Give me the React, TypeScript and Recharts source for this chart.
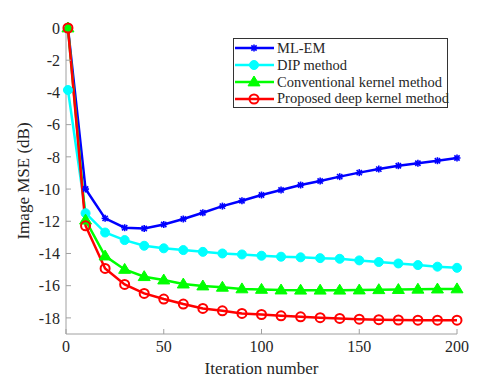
import React from 'react';
import { LineChart, Line, XAxis, YAxis } from 'recharts';

const iterations = [1, 10, 20, 30, 40, 50, 60, 70, 80, 90, 100, 110, 120, 130, 140, 150, 160, 170, 180, 190, 200];
const mlem = [0, -10.0, -11.82, -12.4, -12.45, -12.2, -11.86, -11.47, -11.06, -10.73, -10.37, -10.06, -9.75, -9.5, -9.23, -8.98, -8.76, -8.55, -8.4, -8.24, -8.07];
const dip = [-3.85, -11.5, -12.7, -13.17, -13.52, -13.68, -13.79, -13.9, -14.0, -14.06, -14.14, -14.2, -14.24, -14.29, -14.33, -14.43, -14.53, -14.62, -14.72, -14.82, -14.89];
const conventional = [0, -11.93, -14.16, -14.99, -15.44, -15.65, -15.9, -16.02, -16.1, -16.2, -16.23, -16.27, -16.28, -16.28, -16.28, -16.27, -16.25, -16.24, -16.22, -16.21, -16.2];
const proposed = [0, -12.28, -14.93, -15.92, -16.48, -16.83, -17.14, -17.41, -17.56, -17.72, -17.79, -17.87, -17.93, -17.99, -18.03, -18.08, -18.11, -18.13, -18.14, -18.14, -18.14];

const xTicks = [0, 50, 100, 150, 200];
const yTicks = [0, -2, -4, -6, -8, -10, -12, -14, -16, -18];

const data = iterations.map((it, i) => ({
  it,
  mlem: mlem[i],
  dip: dip[i],
  conventional: conventional[i],
  proposed: proposed[i],
}));

const FONT = 'Liberation Serif, Times New Roman, serif';
const AXIS = '#a0a0a0';
const TEXT = '#262626';

type Kind = 'star' | 'dot' | 'tri' | 'ring';

const Marker = ({ kind, cx, cy, color }: { kind: Kind; cx: number; cy: number; color: string }) => {
  if (cx == null || cy == null) return null;
  if (kind === 'star') {
    const r = 3.5;
    const d = r * 0.75;
    return (
      <g stroke={color} strokeWidth={1.6}>
        <line x1={cx - r} y1={cy} x2={cx + r} y2={cy} />
        <line x1={cx} y1={cy - r} x2={cx} y2={cy + r} />
        <line x1={cx - d} y1={cy - d} x2={cx + d} y2={cy + d} />
        <line x1={cx - d} y1={cy + d} x2={cx + d} y2={cy - d} />
      </g>
    );
  }
  if (kind === 'dot') return <circle cx={cx} cy={cy} r={4.5} fill={color} stroke={color} />;
  if (kind === 'tri') {
    const s = 6;
    return (
      <polygon
        points={`${cx},${cy - s} ${cx - s},${cy + s * 0.65} ${cx + s},${cy + s * 0.65}`}
        fill={color}
        stroke={color}
        strokeWidth={1}
      />
    );
  }
  return <circle cx={cx} cy={cy} r={4.5} fill="none" stroke={color} strokeWidth={2} />;
};

const SERIES: { key: string; name: string; color: string; kind: Kind }[] = [
  { key: 'mlem', name: 'ML-EM', color: '#0000ff', kind: 'star' },
  { key: 'dip', name: 'DIP method', color: '#00ffff', kind: 'dot' },
  { key: 'conventional', name: 'Conventional kernel method', color: '#00ff00', kind: 'tri' },
  { key: 'proposed', name: 'Proposed deep kernel method', color: '#ff0000', kind: 'ring' },
];

const LegendBox = () => (
  <div
    style={{
      position: 'absolute',
      left: 233,
      top: 38,
      boxSizing: 'border-box',
      border: '1px solid #333',
      background: '#fff',
      width: 215,
      height: 70,
      padding: '1px 0',
      fontFamily: FONT,
      fontSize: 14.5,
      lineHeight: '16.8px',
      color: TEXT,
    }}
  >
    {SERIES.map((s) => (
      <div key={s.key} style={{ display: 'flex', alignItems: 'center', height: 16.8 }}>
        <svg width={42} height={14} style={{ flex: 'none' }}>
          <line x1={1} y1={7} x2={40} y2={7} stroke={s.color} strokeWidth={2.5} />
          <Marker kind={s.kind} cx={20} cy={7} color={s.color} />
        </svg>
        <span style={{ marginLeft: 1, whiteSpace: 'nowrap' }}>{s.name}</span>
      </div>
    ))}
  </div>
);

export default function App() {
  return (
    <div style={{ position: 'absolute', left: 0, top: 0, width: 499, height: 379, background: '#fff' }}>
      <LineChart width={499} height={379} data={data} margin={{ top: 28, right: 42, bottom: 15, left: 26 }} style={{ fontFamily: FONT }}>
        <XAxis
          xAxisId="b"
          dataKey="it"
          type="number"
          domain={[0, 200]}
          ticks={xTicks}
          height={30}
          stroke={AXIS}
          tickSize={-5}
          tickMargin={12}
          tick={{ fill: TEXT, fontFamily: FONT, fontSize: 16 }}
          label={{ value: 'Iteration number', position: 'insideBottom', offset: -10, fill: TEXT, fontFamily: FONT, fontSize: 17 }}
        />
        <XAxis
          xAxisId="t"
          orientation="top"
          dataKey="it"
          type="number"
          domain={[0, 200]}
          ticks={xTicks}
          height={0}
          stroke={AXIS}
          tickSize={-5}
          tick={false}
        />
        <YAxis
          yAxisId="l"
          type="number"
          domain={[-19, 0]}
          ticks={yTicks}
          width={40}
          stroke={AXIS}
          tickSize={-5}
          tickMargin={11}
          tick={{ fill: TEXT, fontFamily: FONT, fontSize: 16 }}
          label={{ value: 'Image MSE (dB)', angle: -90, position: 'insideLeft', offset: -3, fill: TEXT, fontFamily: FONT, fontSize: 17, style: { textAnchor: 'middle' } }}
        />
        <YAxis
          yAxisId="r"
          orientation="right"
          type="number"
          domain={[-19, 0]}
          ticks={yTicks}
          width={0}
          stroke={AXIS}
          tickSize={-5}
          tick={false}
        />
        {SERIES.map((s) => (
          <Line
            key={s.key}
            xAxisId="b"
            yAxisId="l"
            dataKey={s.key}
            name={s.name}
            stroke={s.color}
            strokeWidth={2.5}
            isAnimationActive={false}
            dot={(p: any) => <Marker key={`${s.key}-${p.index}`} kind={s.kind} cx={p.cx} cy={p.cy} color={s.color} />}
            activeDot={false}
          />
        ))}
      </LineChart>
      <LegendBox />
    </div>
  );
}
